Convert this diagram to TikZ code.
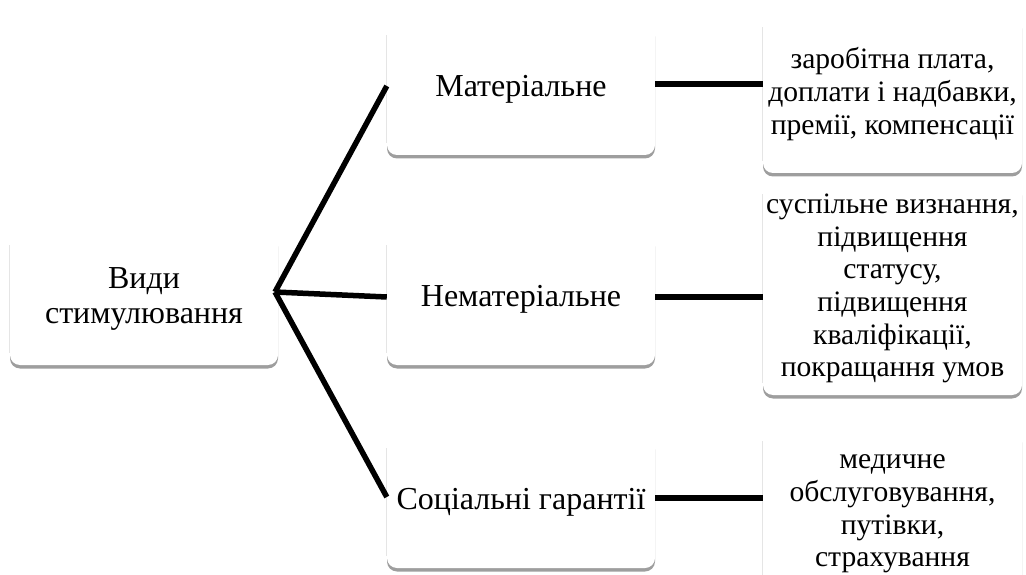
\documentclass[tikz,border=0pt]{standalone}
\usepackage{fontspec}
\setmainfont{Liberation Serif}
\usetikzlibrary{shadows,calc}
\begin{document}
\begin{tikzpicture}[x=1pt,y=-1pt,
  box/.style={draw=none, fill=white, rounded corners=10pt,
    general shadow={fill=black!38, shadow yshift=-3.5pt},
    align=center, inner sep=0pt},
  rightbox/.style={box, minimum width=259pt, font=\fontsize{29.6}{32.6}\selectfont},
  midbox/.style={box, minimum width=268pt, minimum height=132pt, font=\fontsize{32}{35}\selectfont},
  conn/.style={line width=5.5pt, black}]
\useasboundingbox (0,0) rectangle (1026,575);
% right boxes
\node[rightbox, minimum height=158pt] (r1) at (892.5,94) {заробітна плата,\\доплати і надбавки,\\премії, компенсації};
\node[rightbox, minimum height=213pt] (r2) at (892.5,288.5) {суспільне визнання,\\підвищення\\статусу,\\підвищення\\кваліфікації,\\покращання умов};
\node[rightbox, minimum height=170pt] (r3) at (892.5,514) {медичне\\обслуговування,\\путівки,\\страхування};
% middle boxes
\node[midbox] (mat) at (521,89) {Матеріальне};
\node[midbox] (nemat) at (521,299) {Нематеріальне};
\node[midbox] (soc) at (521,502) {Соціальні гарантії};
% root
\node[midbox] (root) at (144,299) {Види\\стимулювання};
\coordinate (J) at (275,292);
% faint left edges of the boxes
\foreach \n in {r1,r2,r3,mat,nemat,soc,root}{
  \draw[black!10, line width=0.7pt] ([yshift=-12pt]\n.north west) -- ([yshift=12pt]\n.south west);
}
% connectors
\draw[conn] (J) -- ([yshift=3pt]mat.west);
\draw[conn] (J) -- ([yshift=2pt]nemat.west);
\draw[conn] (J) -- ([yshift=5pt]soc.west);
\draw[conn] ([yshift=5pt]mat.east) -- ([yshift=5pt]mat.east -| r1.west);
\draw[conn] ([yshift=2pt]nemat.east) -- ([yshift=2pt]nemat.east -| r2.west);
\draw[conn] ([yshift=4pt]soc.east) -- ([yshift=4pt]soc.east -| r3.west);
\end{tikzpicture}
\end{document}
